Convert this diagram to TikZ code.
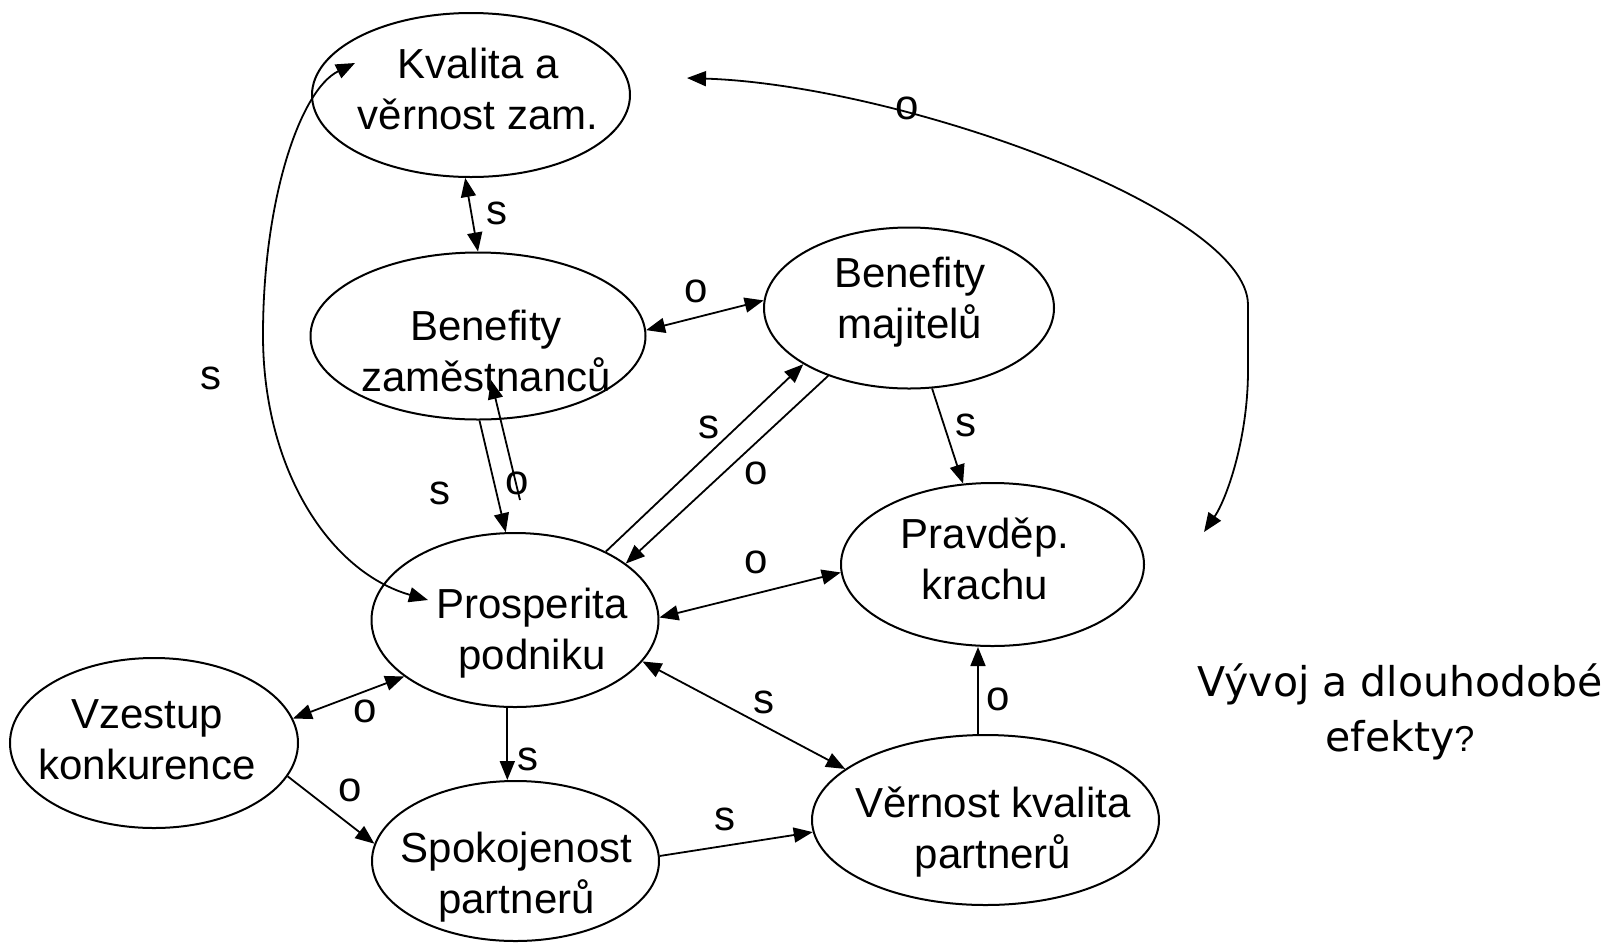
\documentclass[tikz,border=0pt]{standalone}
\usepackage{fontspec}
\setmainfont{Liberation Sans}
\newfontfamily\vfont{DejaVu Sans}
\usetikzlibrary{shapes.geometric,arrows.meta}
\begin{document}
\begin{tikzpicture}[x=0.5pt,y=-0.5pt,
  ell/.style={draw,ellipse,line width=1pt,inner sep=0pt},
  txt/.style={font=\fontsize{21}{25.5}\selectfont,align=center,inner sep=0pt},
  lab/.style={font=\fontsize{21}{25.5}\selectfont,inner sep=0pt},
  hd/.tip={Triangle[length=9.5pt,width=7.5pt]},
  one/.style={line width=0.9pt,-hd},
  two/.style={line width=0.9pt,hd-hd}]
\useasboundingbox (0,0) rectangle (1612,949);

% ellipses
\node[ell,minimum width=159pt,minimum height=82pt]   (k)  at (471,95)    {};
\node[ell,minimum width=167.5pt,minimum height=83.5pt] (bz) at (478,336) {};
\node[ell,minimum width=145pt,minimum height=80.5pt] (bm) at (909,308)   {};
\node[ell,minimum width=151.5pt,minimum height=81.5pt] (pk) at (992.5,564.5) {};
\node[ell,minimum width=143.5pt,minimum height=87pt] (pp) at (515,620)   {};
\node[ell,minimum width=144pt,minimum height=85pt]   (vk) at (154,743)   {};
\node[ell,minimum width=143.5pt,minimum height=80pt] (sp) at (515.5,861) {};
\node[ell,minimum width=173.5pt,minimum height=85pt] (vp) at (985.5,820) {};

% texts inside the ellipses
\node[txt] (k-t)  at (478,89) {Kvalita a\\věrnost zam.};
\node[txt] (bz-t) at (486,351)  {Benefity\\zaměstnanců};
\node[txt] (bm-t) at (910,302)  {Benefity\\majitelů};
\node[txt] (pk-t) at (985,559)  {Pravděp.\\krachu};
\node[txt] (pp-t) at (532,633)  {Prosperita\\podniku};
\node[txt] (vk-t) at (147,740)  {Vzestup\\konkurence};
\node[txt] (sp-t) at (516.5,877) {Spokojenost\\partnerů};
\node[txt] (vp-t) at (993,832)  {Věrnost kvalita\\partnerů};

% question on the right
\node[inner sep=0pt,font=\vfont\fontsize{20.5}{24}\selectfont] (q1) at (1400,684) {Vývoj a dlouhodobé};
\node[inner sep=0pt,font=\vfont\fontsize{20.5}{24}\selectfont] (q2) at (1400,740) {efekty{\rmfamily\fontsize{18}{20}\selectfont ?}};

% free ends of connectors
\coordinate (bz-in) at (491,380);
\coordinate (o-free) at (520,500);
\coordinate (k-in) at (355,63);
\coordinate (pp-in) at (428,600);
\coordinate (lbend) at (263,335);
\coordinate (rc-a) at (687,78);
\coordinate (rc-b) at (1204,532);

% connectors
\draw[two] (k.266) -- (bz.90);
\draw[two] (bz.2) -- (bm.177);
\draw[one] (bz.271) -- (pp.96);
\draw[one] (o-free) -- (bz-in);
\draw[one] (pp.37) -- (bm.208);
\draw[one] (bm.220) -- (pp.27);
\draw[one] (bm.286) -- (pk.110);
\draw[two] (pp.1) -- (pk.183);
\draw[two] (pp.342) -- (vp.160);
\draw[two] (vk.10) -- (pp.207);
\draw[one] (vk.346) -- (sp.173);
\draw[one] (pp.265) -- (pp.265 |- sp.north);
\draw[one] (sp.2) -- (vp.184);
\draw[one] (vp.95) -- (vp.95 |- pk.south);
\draw[two] (k-in) .. controls (300,90) and (263,200) .. (lbend)
                  .. controls (263,470) and (330,572) .. (pp-in);
\draw[two] (rc-a) .. controls (900,85) and (1248,210) .. (1248,305)
                  -- (1248,370) .. controls (1248,440) and (1226,500) .. (rc-b);

% connector labels
\node[lab] (l-ks)   at (211,378) {s};
\node[lab] (l-kbz)  at (497,213) {s};
\node[lab] (l-bzbm) at (696,291) {o};
\node[lab] (l-bzpp) at (440,493) {s};
\node[lab] (l-ppbz) at (517,483) {o};
\node[lab] (l-ppbm) at (709,427) {s};
\node[lab] (l-bmpp) at (756,473) {o};
\node[lab] (l-bmpk) at (966,425) {s};
\node[lab] (l-pppk) at (756,562) {o};
\node[lab] (l-vkpp) at (365,711) {o};
\node[lab] (l-vksp) at (350,790) {o};
\node[lab] (l-ppsp) at (528,759) {s};
\node[lab] (l-ppvp) at (764,702) {s};
\node[lab] (l-spvp) at (725,819) {s};
\node[lab] (l-vppk) at (998,699) {o};
\node[lab] (l-long) at (907,108) {o};
\end{tikzpicture}
\end{document}
